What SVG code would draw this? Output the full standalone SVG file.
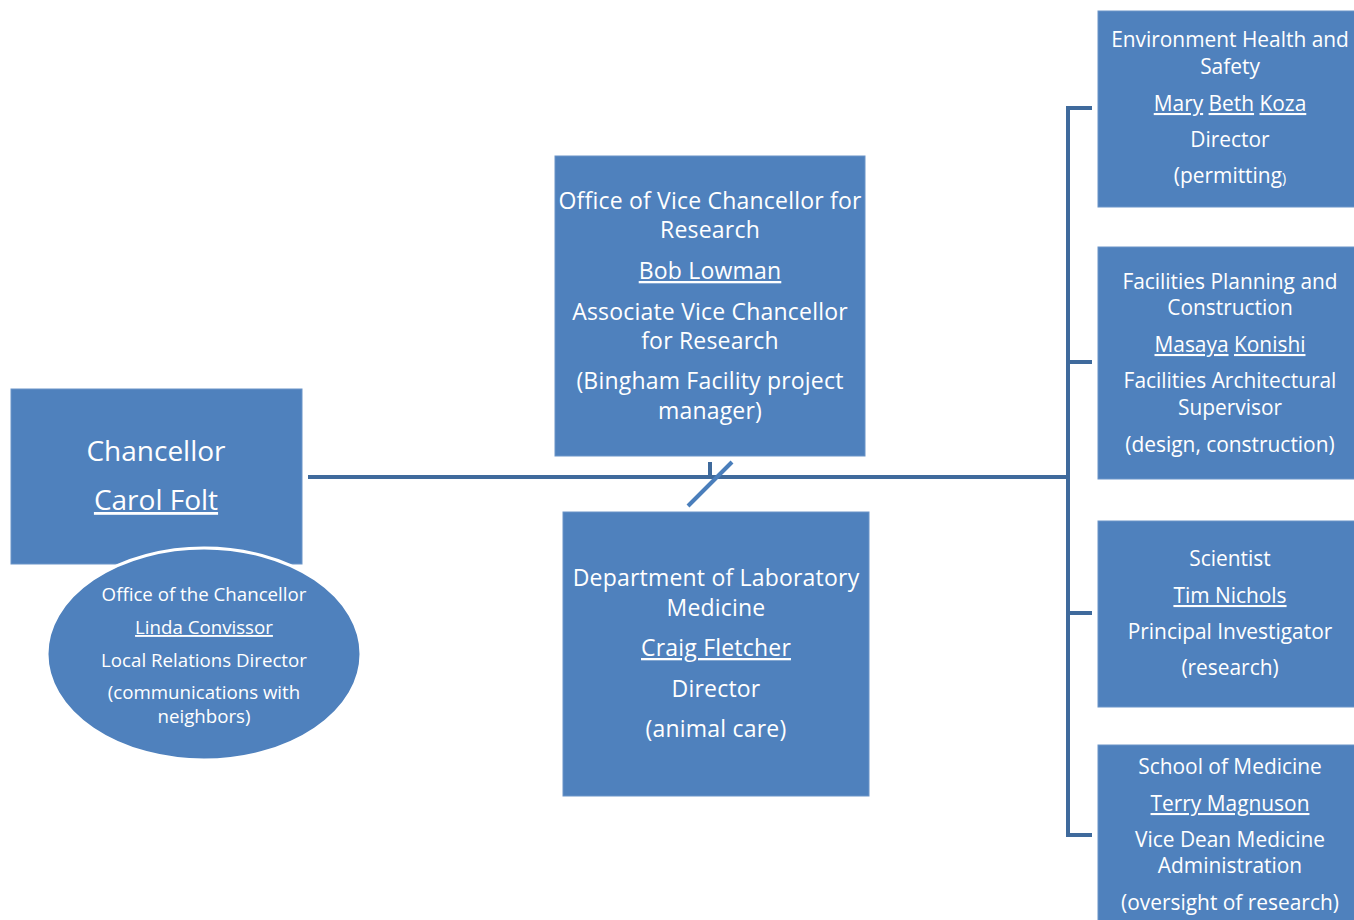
<svg xmlns="http://www.w3.org/2000/svg" width="1354" height="920" viewBox="0 0 1354 920">
<style>
.box{fill:#4F81BD;stroke:#6A94C8;stroke-width:1}
.t{font-family:"Open Sans","Liberation Sans",sans-serif;fill:#FFFFFF;text-anchor:middle}
.c{font-size:23px;letter-spacing:0.2px}
.r{font-size:20.9px}
.e{font-size:18.7px}
.big{font-size:28px}
.u{text-decoration:underline}
.ln{stroke:#3F6A9C;stroke-width:4;fill:none}
</style>
<rect width="1354" height="920" fill="#FFFFFF"/>
<g id="connectors">
<line class="ln" x1="308" y1="477" x2="1068" y2="477"/>
<path class="ln" d="M1092,108 H1068 V835 H1092 M1068,362 H1092 M1068,613 H1092"/>
<line class="ln" x1="710" y1="462" x2="710" y2="477"/>
<line x1="688" y1="506" x2="732" y2="462" stroke="#4A7EBB" stroke-width="4"/>
</g>
<g id="chancellor">
<rect class="box" x="11" y="389" width="291" height="175"/>
<text class="t big" x="156" y="461">Chancellor</text>
<text class="t big" x="156" y="510"><tspan class="u">Carol Folt</tspan></text>
</g>
<g id="office-chancellor">
<ellipse cx="204" cy="654" rx="157" ry="106" fill="#4F81BD" stroke="#FFFFFF" stroke-width="3"/>
<text class="t e" x="204" y="601">Office of the Chancellor</text>
<text class="t e" x="204" y="634"><tspan class="u">Linda Convissor</tspan></text>
<text class="t e" x="204" y="667">Local Relations Director</text>
<text class="t e" x="204" y="699">(communications with</text>
<text class="t e" x="204" y="723">neighbors)</text>
</g>
<g id="vc-research">
<rect class="box" x="555" y="156" width="310" height="300"/>
<text class="t c" x="710" y="209">Office of Vice Chancellor for</text>
<text class="t c" x="710" y="238">Research</text>
<text class="t c" x="710" y="279"><tspan class="u">Bob Lowman</tspan></text>
<text class="t c" x="710" y="320">Associate Vice Chancellor</text>
<text class="t c" x="710" y="349">for Research</text>
<text class="t c" x="710" y="389">(Bingham Facility project</text>
<text class="t c" x="710" y="419">manager)</text>
</g>
<g id="lab-medicine">
<rect class="box" x="563" y="512" width="306" height="284"/>
<text class="t c" x="716" y="586">Department of Laboratory</text>
<text class="t c" x="716" y="616">Medicine</text>
<text class="t c" x="716" y="656"><tspan class="u">Craig Fletcher</tspan></text>
<text class="t c" x="716" y="697">Director</text>
<text class="t c" x="716" y="737">(animal care)</text>
</g>
<g id="ehs">
<rect class="box" x="1098" y="11" width="264" height="196"/>
<text class="t r" x="1230" y="47">Environment Health and</text>
<text class="t r" x="1230" y="74">Safety</text>
<text class="t r" x="1230" y="111"><tspan class="u">Mary</tspan> <tspan class="u">Beth</tspan> <tspan class="u">Koza</tspan></text>
<text class="t r" x="1230" y="147">Director</text>
<text class="t r" x="1230" y="183">(permitting<tspan font-size="14">)</tspan></text>
</g>
<g id="facilities">
<rect class="box" x="1098" y="247" width="264" height="232"/>
<text class="t r" x="1230" y="289">Facilities Planning and</text>
<text class="t r" x="1230" y="315">Construction</text>
<text class="t r" x="1230" y="352"><tspan class="u">Masaya</tspan> <tspan class="u">Konishi</tspan></text>
<text class="t r" x="1230" y="388">Facilities Architectural</text>
<text class="t r" x="1230" y="415">Supervisor</text>
<text class="t r" x="1230" y="452">(design, construction)</text>
</g>
<g id="scientist">
<rect class="box" x="1098" y="521" width="264" height="186"/>
<text class="t r" x="1230" y="566">Scientist</text>
<text class="t r" x="1230" y="603"><tspan class="u">Tim Nichols</tspan></text>
<text class="t r" x="1230" y="639">Principal Investigator</text>
<text class="t r" x="1230" y="675">(research)</text>
</g>
<g id="school-medicine">
<rect class="box" x="1098" y="745" width="264" height="185"/>
<text class="t r" x="1230" y="774">School of Medicine</text>
<text class="t r" x="1230" y="811"><tspan class="u">Terry Magnuson</tspan></text>
<text class="t r" x="1230" y="847">Vice Dean Medicine</text>
<text class="t r" x="1230" y="873">Administration</text>
<text class="t r" x="1230" y="910">(oversight of research)</text>
</g>
</svg>
